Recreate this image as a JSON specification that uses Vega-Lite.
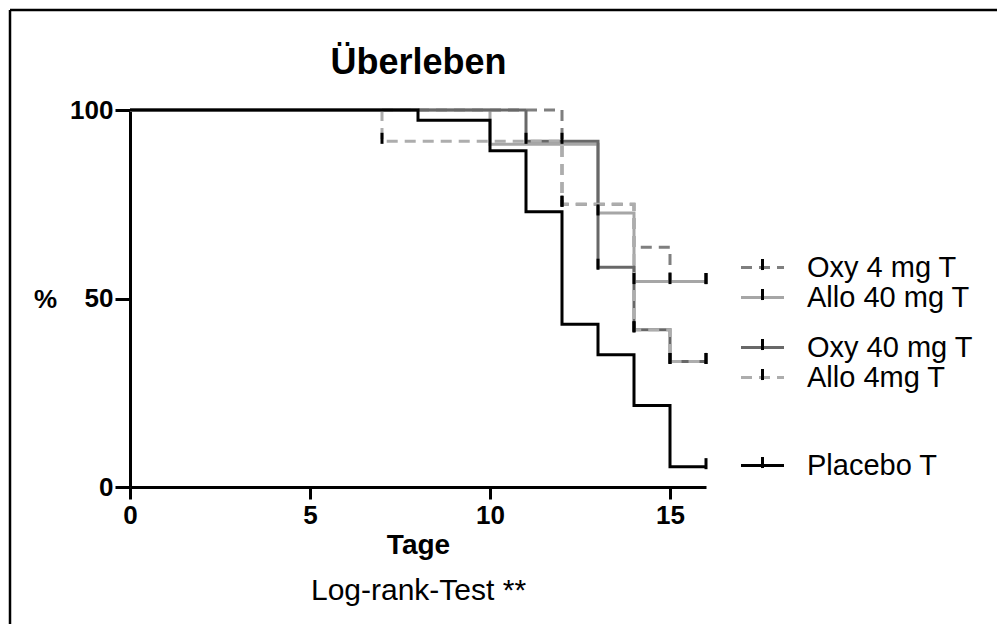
{
  "$schema": "https://vega.github.io/schema/vega-lite/v6.json",
  "width": 576,
  "height": 377,
  "autosize": {"type": "none"},
  "padding": {"left": 130, "top": 110, "right": 291, "bottom": 137},
  "background": "white",
  "config": {"view": {"stroke": null}, "font": "Liberation Sans", "axis": {"grid": false}},
  "datasets": {
    "km": [
      {"group": "Oxy 4 mg T", "day": 0, "surv": 100},
      {"group": "Oxy 4 mg T", "day": 12, "surv": 75},
      {"group": "Oxy 4 mg T", "day": 14, "surv": 63.6},
      {"group": "Oxy 4 mg T", "day": 15, "surv": 54.5},
      {"group": "Oxy 4 mg T", "day": 16, "surv": 54.5},
      {"group": "Allo 40 mg T", "day": 0, "surv": 100},
      {"group": "Allo 40 mg T", "day": 10, "surv": 90.9},
      {"group": "Allo 40 mg T", "day": 13, "surv": 72.7},
      {"group": "Allo 40 mg T", "day": 14, "surv": 54.5},
      {"group": "Allo 40 mg T", "day": 16, "surv": 54.5},
      {"group": "Oxy 40 mg T", "day": 0, "surv": 100},
      {"group": "Oxy 40 mg T", "day": 11, "surv": 91.7},
      {"group": "Oxy 40 mg T", "day": 13, "surv": 58.3},
      {"group": "Oxy 40 mg T", "day": 14, "surv": 41.7},
      {"group": "Oxy 40 mg T", "day": 15, "surv": 33.3},
      {"group": "Oxy 40 mg T", "day": 16, "surv": 33.3},
      {"group": "Allo 4mg T", "day": 0, "surv": 100},
      {"group": "Allo 4mg T", "day": 7, "surv": 91.7},
      {"group": "Allo 4mg T", "day": 12, "surv": 75},
      {"group": "Allo 4mg T", "day": 14, "surv": 41.7},
      {"group": "Allo 4mg T", "day": 15, "surv": 33.3},
      {"group": "Allo 4mg T", "day": 16, "surv": 33.3},
      {"group": "Placebo T", "day": 0, "surv": 100},
      {"group": "Placebo T", "day": 8, "surv": 97.3},
      {"group": "Placebo T", "day": 10, "surv": 89.2},
      {"group": "Placebo T", "day": 11, "surv": 73},
      {"group": "Placebo T", "day": 12, "surv": 43.2},
      {"group": "Placebo T", "day": 13, "surv": 35.1},
      {"group": "Placebo T", "day": 14, "surv": 21.6},
      {"group": "Placebo T", "day": 15, "surv": 5.4},
      {"group": "Placebo T", "day": 16, "surv": 5.4}
    ],
    "marks": [
      {"group": "Oxy 4 mg T", "day": 12, "surv": 75},
      {"group": "Oxy 4 mg T", "day": 15, "surv": 54.5},
      {"group": "Oxy 4 mg T", "day": 16, "surv": 54.5},
      {"group": "Allo 40 mg T", "day": 13, "surv": 72.7},
      {"group": "Allo 40 mg T", "day": 14, "surv": 54.5},
      {"group": "Allo 40 mg T", "day": 16, "surv": 54.5},
      {"group": "Oxy 40 mg T", "day": 11, "surv": 91.7},
      {"group": "Oxy 40 mg T", "day": 12, "surv": 91.7},
      {"group": "Oxy 40 mg T", "day": 13, "surv": 58.3},
      {"group": "Oxy 40 mg T", "day": 14, "surv": 41.7},
      {"group": "Oxy 40 mg T", "day": 15, "surv": 33.3},
      {"group": "Oxy 40 mg T", "day": 16, "surv": 33.3},
      {"group": "Allo 4mg T", "day": 7, "surv": 91.7},
      {"group": "Allo 4mg T", "day": 12, "surv": 75},
      {"group": "Allo 4mg T", "day": 14, "surv": 41.7},
      {"group": "Allo 4mg T", "day": 15, "surv": 33.3},
      {"group": "Allo 4mg T", "day": 16, "surv": 33.3},
      {"group": "Placebo T", "day": 16, "surv": 5.4}
    ]
  },
  "layer": [
    {
      "data": {"values": [{}]},
      "mark": {"type": "rule", "color": "black", "strokeWidth": 2.5},
      "encoding": {
        "x": {"datum": -3.3333, "type": "quantitative", "axis": null},
        "x2": {"datum": 24.5},
        "y": {"datum": 126.53, "type": "quantitative"}
      }
    },
    {
      "data": {"values": [{}]},
      "mark": {"type": "rule", "color": "black", "strokeWidth": 2.5},
      "encoding": {
        "x": {"datum": -3.3333, "type": "quantitative", "axis": null},
        "y": {"datum": 126.53, "type": "quantitative"},
        "y2": {"datum": -38}
      }
    },
    {
      "data": {"name": "km"},
      "transform": [{"filter": {"field": "group", "oneOf": ["Oxy 4 mg T", "Allo 40 mg T"]}}],
      "mark": {"type": "line", "interpolate": "step-after", "strokeWidth": 3},
      "encoding": {
        "x": {
          "field": "day", "type": "quantitative",
          "scale": {"domain": [0, 16], "nice": false, "zero": false},
          "axis": {
            "values": [0, 5, 10, 15], "format": "d", "title": "Tage",
            "titleFont": "Liberation Sans", "titleFontSize": 28, "titleFontWeight": "bold", "titleColor": "black",
            "titleY": 66, "titleBaseline": "alphabetic",
            "labelFont": "Liberation Sans", "labelFontSize": 26, "labelFontWeight": "bold", "labelColor": "black",
            "labelPadding": 3, "labelFlush": false, "labelOverlap": false,
            "tickSize": 12, "tickWidth": 3, "tickColor": "black",
            "domainColor": "black", "domainWidth": 3, "grid": false
          }
        },
        "y": {
          "field": "surv", "type": "quantitative",
          "scale": {"domain": [0, 100], "nice": false, "zero": false},
          "axis": {
            "values": [0, 50, 100], "title": "%",
            "titleFont": "Liberation Sans", "titleFontSize": 26, "titleFontWeight": "bold", "titleColor": "black",
            "titleAngle": 0, "titleX": -85, "titleY": 189, "titleAlign": "center", "titleBaseline": "middle",
            "labelFont": "Liberation Sans", "labelFontSize": 26, "labelFontWeight": "bold", "labelColor": "black",
            "labelPadding": 2, "labelFlush": false, "labelOverlap": false,
            "tickSize": 15, "tickWidth": 3, "tickColor": "black",
            "domainColor": "black", "domainWidth": 3, "grid": false
          }
        },
        "color": {
          "field": "group", "type": "nominal",
          "scale": {"domain": ["Oxy 4 mg T", "Allo 40 mg T"], "range": ["#7f7f7f", "#a6a6a6"]},
          "legend": {"orient": "none", "legendX": 618, "legendY": 143, "title": null, "padding": 0,
            "symbolType": "M-2.53,0L2.53,0", "symbolSize": 289, "symbolStrokeWidth": 3,
            "labelFont": "Liberation Sans", "labelFontSize": 29, "labelColor": "black", "labelOffset": 30, "labelLimit": 400, "rowPadding": 0}
        },
        "strokeDash": {
          "field": "group", "type": "nominal",
          "scale": {"domain": ["Oxy 4 mg T", "Allo 40 mg T"], "range": [[11, 7], [1, 0]]},
          "legend": {"orient": "none", "legendX": 618, "legendY": 143, "title": null, "padding": 0,
            "symbolType": "M-2.53,0L2.53,0", "symbolSize": 289, "symbolStrokeWidth": 3,
            "labelFont": "Liberation Sans", "labelFontSize": 29, "labelColor": "black", "labelOffset": 30, "labelLimit": 400, "rowPadding": 0}
        }
      }
    },
    {
      "data": {"name": "km"},
      "transform": [{"filter": {"field": "group", "oneOf": ["Oxy 40 mg T", "Allo 4mg T"]}}],
      "mark": {"type": "line", "interpolate": "step-after", "strokeWidth": 3},
      "encoding": {
        "x": {"field": "day", "type": "quantitative", "axis": null},
        "y": {"field": "surv", "type": "quantitative"},
        "color": {
          "field": "group", "type": "nominal",
          "scale": {"domain": ["Oxy 40 mg T", "Allo 4mg T"], "range": ["#686868", "#adadad"]},
          "legend": {"orient": "none", "legendX": 618, "legendY": 223, "title": null, "padding": 0,
            "symbolType": "M-2.53,0L2.53,0", "symbolSize": 289, "symbolStrokeWidth": 3,
            "labelFont": "Liberation Sans", "labelFontSize": 29, "labelColor": "black", "labelOffset": 30, "labelLimit": 400, "rowPadding": 0}
        },
        "strokeDash": {
          "field": "group", "type": "nominal",
          "scale": {"domain": ["Oxy 40 mg T", "Allo 4mg T"], "range": [[1, 0], [11, 7]]},
          "legend": {"orient": "none", "legendX": 618, "legendY": 223, "title": null, "padding": 0,
            "symbolType": "M-2.53,0L2.53,0", "symbolSize": 289, "symbolStrokeWidth": 3,
            "labelFont": "Liberation Sans", "labelFontSize": 29, "labelColor": "black", "labelOffset": 30, "labelLimit": 400, "rowPadding": 0}
        }
      }
    },
    {
      "data": {"name": "km"},
      "transform": [{"filter": {"field": "group", "equal": "Placebo T"}}],
      "mark": {"type": "line", "interpolate": "step-after", "strokeWidth": 3},
      "encoding": {
        "x": {"field": "day", "type": "quantitative", "axis": null},
        "y": {"field": "surv", "type": "quantitative"},
        "color": {
          "field": "group", "type": "nominal",
          "scale": {"domain": ["Placebo T"], "range": ["#000000"]},
          "legend": {"orient": "none", "legendX": 618, "legendY": 341, "title": null, "padding": 0,
            "symbolType": "M-2.53,0L2.53,0", "symbolSize": 289, "symbolStrokeWidth": 3,
            "labelFont": "Liberation Sans", "labelFontSize": 29, "labelColor": "black", "labelOffset": 30, "labelLimit": 400}
        }
      }
    },
    {
      "data": {"name": "marks"},
      "transform": [{"filter": {"field": "group", "oneOf": ["Oxy 4 mg T", "Allo 40 mg T"]}}],
      "mark": {"type": "point", "filled": false, "color": "black", "strokeWidth": 3, "size": 289, "opacity": 1},
      "encoding": {
        "x": {"field": "day", "type": "quantitative",
          "axis": {"orient": "bottom", "domain": false, "ticks": false, "labels": false, "grid": false,
            "title": "Log-rank-Test **", "titleFont": "Liberation Sans", "titleFontSize": 30, "titleFontWeight": "normal",
            "titleColor": "black", "titleY": 112, "titleBaseline": "alphabetic"}},
        "y": {"field": "surv", "type": "quantitative"},
        "shape": {
          "field": "group", "type": "nominal",
          "scale": {"domain": ["Oxy 4 mg T", "Allo 40 mg T"], "range": ["M0,-1L0,0.3", "M0,-1L0,0.3"]},
          "legend": {"orient": "none", "legendX": 618, "legendY": 143, "title": null, "padding": 0,
            "symbolSize": 289, "symbolStrokeWidth": 3, "symbolStrokeColor": "black", "symbolFillColor": "transparent", "symbolOpacity": 1,
            "labelFont": "Liberation Sans", "labelFontSize": 29, "labelOpacity": 0, "labelOffset": 30, "labelLimit": 400, "rowPadding": 0}
        }
      }
    },
    {
      "data": {"name": "marks"},
      "transform": [{"filter": {"field": "group", "oneOf": ["Oxy 40 mg T", "Allo 4mg T"]}}],
      "mark": {"type": "point", "filled": false, "color": "black", "strokeWidth": 3, "size": 289, "opacity": 1},
      "encoding": {
        "x": {"field": "day", "type": "quantitative",
          "axis": {"orient": "top", "domain": false, "ticks": false, "labels": false, "grid": false,
            "title": "Überleben", "titleFont": "Liberation Sans", "titleFontSize": 36, "titleFontWeight": "bold",
            "titleColor": "black", "titleY": -37, "titleBaseline": "alphabetic"}},
        "y": {"field": "surv", "type": "quantitative"},
        "shape": {
          "field": "group", "type": "nominal",
          "scale": {"domain": ["Oxy 40 mg T", "Allo 4mg T"], "range": ["M0,-1L0,0.3", "M0,-1L0,0.3"]},
          "legend": {"orient": "none", "legendX": 618, "legendY": 223, "title": null, "padding": 0,
            "symbolSize": 289, "symbolStrokeWidth": 3, "symbolStrokeColor": "black", "symbolFillColor": "transparent", "symbolOpacity": 1,
            "labelFont": "Liberation Sans", "labelFontSize": 29, "labelOpacity": 0, "labelOffset": 30, "labelLimit": 400, "rowPadding": 0}
        }
      }
    },
    {
      "data": {"name": "marks"},
      "transform": [{"filter": {"field": "group", "equal": "Placebo T"}}],
      "mark": {"type": "point", "filled": false, "color": "black", "strokeWidth": 3, "size": 289, "opacity": 1},
      "encoding": {
        "x": {"field": "day", "type": "quantitative", "axis": null},
        "y": {"field": "surv", "type": "quantitative"},
        "shape": {
          "field": "group", "type": "nominal",
          "scale": {"domain": ["Placebo T"], "range": ["M0,-1L0,0.3"]},
          "legend": {"orient": "none", "legendX": 618, "legendY": 341, "title": null, "padding": 0,
            "symbolSize": 289, "symbolStrokeWidth": 3, "symbolStrokeColor": "black", "symbolFillColor": "transparent", "symbolOpacity": 1,
            "labelFont": "Liberation Sans", "labelFontSize": 29, "labelOpacity": 0, "labelOffset": 30, "labelLimit": 400}
        }
      }
    }
  ],
  "resolve": {
    "scale": {"color": "independent", "strokeDash": "independent", "shape": "independent"},
    "legend": {"color": "independent", "strokeDash": "independent", "shape": "independent"},
    "axis": {"x": "independent"}
  }
}
